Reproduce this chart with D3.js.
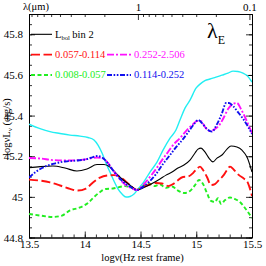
<!DOCTYPE html>
<html>
<head>
<meta charset="utf-8">
<script src="https://cdn.jsdelivr.net/npm/d3@7"></script>
<style>
  html, body { margin: 0; padding: 0; background: #fff; }
  svg text { font-family: "Liberation Serif", "DejaVu Serif", serif; }
</style>
</head>
<body>
<div id="chart"></div>
<script>
// SED per lambda_E bin, normalised near 1 micron
const xTicks = [13.5, 14, 14.5, 15, 15.5];
const yTicks = [44.8, 45, 45.2, 45.4, 45.6, 45.8];
const lambdaMajor = [1, 0.1];
const lambdaMinor = [9, 8, 7, 6, 5, 4, 3, 2, 0.9, 0.8, 0.7, 0.6, 0.5, 0.4, 0.3, 0.2];

// [log nu, log nuLnu]
const cyanSeries = [[13.5,45.358],[13.599,45.336],[13.688,45.321],[13.778,45.312],[13.868,45.304],[13.957,45.299],[14.029,45.292],[14.083,45.28],[14.119,45.255],[14.155,45.216],[14.191,45.166],[14.226,45.122],[14.262,45.078],[14.298,45.039],[14.334,45.014],[14.37,44.999],[14.406,45.002],[14.442,45.014],[14.478,45.039],[14.522,45.068],[14.585,45.122],[14.648,45.171],[14.702,45.23],[14.765,45.289],[14.818,45.329],[14.854,45.378],[14.899,45.437],[14.944,45.476],[14.998,45.535],[15.034,45.555],[15.078,45.572],[15.123,45.58],[15.177,45.589],[15.231,45.599],[15.285,45.609],[15.33,45.619],[15.374,45.617],[15.419,45.609],[15.455,45.597],[15.5,45.565]];

const blackSeries = [[13.5,45.144],[13.599,45.149],[13.715,45.152],[13.823,45.142],[13.93,45.127],[14.02,45.137],[14.11,45.159],[14.173,45.159],[14.226,45.147],[14.28,45.117],[14.334,45.088],[14.406,45.058],[14.468,45.034],[14.54,45.048],[14.612,45.068],[14.675,45.088],[14.729,45.107],[14.783,45.122],[14.836,45.142],[14.89,45.157],[14.944,45.181],[14.989,45.216],[15.016,45.235],[15.043,45.24],[15.078,45.221],[15.114,45.191],[15.15,45.172],[15.186,45.191],[15.231,45.206],[15.276,45.235],[15.312,45.25],[15.365,45.245],[15.41,45.23],[15.455,45.196],[15.5,45.122]];

const redSeries = [[13.5,45.085],[13.599,45.08],[13.688,45.071],[13.778,45.056],[13.868,45.039],[13.939,45.031],[14.011,45.041],[14.074,45.071],[14.137,45.095],[14.2,45.105],[14.262,45.107],[14.316,45.098],[14.37,45.075],[14.415,45.053],[14.468,45.034],[14.522,45.048],[14.585,45.061],[14.639,45.068],[14.693,45.066],[14.747,45.053],[14.791,45.063],[14.827,45.078],[14.881,45.098],[14.926,45.1],[14.971,45.117],[15.007,45.139],[15.034,45.149],[15.061,45.132],[15.096,45.098],[15.132,45.058],[15.168,45.063],[15.204,45.083],[15.24,45.103],[15.276,45.132],[15.303,45.149],[15.339,45.132],[15.383,45.107],[15.428,45.09],[15.464,45.068],[15.5,45.004]];

const magentaSeries = [[13.5,45.191],[13.599,45.189],[13.715,45.181],[13.868,45.179],[14.02,45.186],[14.11,45.194],[14.164,45.189],[14.209,45.166],[14.253,45.132],[14.298,45.098],[14.352,45.066],[14.406,45.046],[14.468,45.034],[14.522,45.058],[14.585,45.098],[14.639,45.137],[14.693,45.181],[14.747,45.221],[14.8,45.26],[14.854,45.289],[14.908,45.324],[14.962,45.353],[15.007,45.373],[15.043,45.373],[15.078,45.344],[15.123,45.324],[15.168,45.334],[15.213,45.358],[15.249,45.393],[15.285,45.432],[15.321,45.454],[15.365,45.462],[15.401,45.432],[15.437,45.393],[15.473,45.348],[15.5,45.314]];

const blueSeries = [[13.5,45.095],[13.554,45.12],[13.617,45.142],[13.715,45.162],[13.823,45.174],[13.93,45.179],[14.02,45.186],[14.074,45.196],[14.11,45.201],[14.155,45.194],[14.2,45.171],[14.244,45.137],[14.298,45.1],[14.352,45.071],[14.406,45.051],[14.468,45.034],[14.531,45.053],[14.585,45.078],[14.639,45.112],[14.702,45.162],[14.765,45.206],[14.827,45.25],[14.881,45.284],[14.935,45.324],[14.98,45.358],[15.016,45.378],[15.052,45.363],[15.096,45.334],[15.141,45.321],[15.186,45.358],[15.231,45.412],[15.267,45.462],[15.294,45.462],[15.33,45.447],[15.374,45.417],[15.419,45.385],[15.464,45.346],[15.5,45.309]];

const greenSeries = [[13.5,44.916],[13.599,44.908],[13.715,44.901],[13.796,44.908],[13.868,44.933],[13.957,44.948],[14.029,44.97],[14.083,44.999],[14.137,45.024],[14.191,45.039],[14.253,45.041],[14.307,45.048],[14.361,45.053],[14.415,45.046],[14.468,45.034],[14.522,45.053],[14.576,45.066],[14.621,45.053],[14.675,45.061],[14.729,45.044],[14.783,45.051],[14.836,45.031],[14.89,45.019],[14.944,45.029],[14.989,45.058],[15.025,45.083],[15.061,45.063],[15.096,45.019],[15.132,44.98],[15.168,44.975],[15.195,44.994],[15.222,44.965],[15.258,44.984],[15.303,44.997],[15.348,44.989],[15.392,44.975],[15.437,44.945],[15.482,44.911],[15.5,44.896]];

const series = [
    { data: cyanSeries, color: '#22eef2', width: 1.4, dash: null },
    { data: greenSeries, color: '#22ee22', width: 1.9, dash: '4,2.5' },
    { data: redSeries, color: '#ff1010', width: 1.9, dash: '9,3.5' },
    { data: blackSeries, color: '#000', width: 1.1, dash: null },
    { data: magentaSeries, color: '#ff10ff', width: 1.9, dash: '7,2,2,2' },
    { data: blueSeries, color: '#1010ee', width: 1.9, dash: '5,1.6,1.6,1.6,1.6,1.6' }
];

const legendRows = [
    [{ label: 'bol', color: '#000', width: 1.1, dash: null }],
    [{ label: '0.057-0.114', color: '#ff1010', width: 1.9, dash: '9,3.5' },
     { label: '0.252-2.506', color: '#ff10ff', width: 1.9, dash: '7,2,2,2' }],
    [{ label: '0.008-0.057', color: '#22ee22', width: 1.9, dash: '4,2.5' },
     { label: '0.114-0.252', color: '#1010ee', width: 1.9, dash: '5,1.6,1.6,1.6,1.6,1.6' }]
];

const W = 266, H = 266;
const padL = 29, padR = 252, padT = 14, padB = 237.5;

const svg = d3.select('#chart').append('svg')
    .attr('width', W).attr('height', H)
    .attr('viewBox', `0 0 ${W} ${H}`);

const x = d3.scaleLinear().domain([13.5, 15.5]).range([padL, padR]);
const y = d3.scaleLinear().domain([44.8, 45.9]).range([padB, padT]);
// lambda in micron: log lambda = 14.4768 - log nu
const lam = d3.scaleLog()
    .domain([Math.pow(10, 14.4768 - 13.5), Math.pow(10, 14.4768 - 15.5)])
    .range([padL, padR]);

const fmt = d => String(+d.toFixed(1));
const xMinor = d3.range(13.5, 15.51, 0.1);
const yMinor = d3.range(44.8, 45.91, 0.05);

const styleAxis = (sel) => {
    sel.selectAll('.domain').attr('stroke', '#000').attr('stroke-width', 1);
    sel.selectAll('.tick line').attr('stroke', '#000').attr('stroke-width', 0.8);
    sel.selectAll('text').attr('fill', '#000').attr('font-size', 11)
        .attr('font-family', '"Liberation Serif", serif');
};

// bottom
svg.append('g').attr('transform', `translate(0,${padB})`)
    .call(d3.axisBottom(x).tickValues(xMinor).tickSize(-3).tickSizeOuter(0).tickFormat(''))
    .call(styleAxis);
svg.append('g').attr('transform', `translate(0,${padB})`)
    .call(d3.axisBottom(x).tickValues(xTicks).tickSize(-6).tickSizeOuter(0).tickPadding(3).tickFormat(fmt))
    .call(styleAxis);
// top
svg.append('g').attr('transform', `translate(0,${padT})`)
    .call(d3.axisTop(lam).tickValues(lambdaMinor).tickSize(-3).tickSizeOuter(0).tickFormat(''))
    .call(styleAxis);
svg.append('g').attr('transform', `translate(0,${padT})`)
    .call(d3.axisTop(lam).tickValues(lambdaMajor).tickSize(-6).tickSizeOuter(0).tickPadding(3)
        .tickFormat(d => d === 1 ? '1' : '0.1'))
    .call(styleAxis);
// left
svg.append('g').attr('transform', `translate(${padL},0)`)
    .call(d3.axisLeft(y).tickValues(yMinor).tickSize(-3).tickSizeOuter(0).tickFormat(''))
    .call(styleAxis);
svg.append('g').attr('transform', `translate(${padL},0)`)
    .call(d3.axisLeft(y).tickValues(yTicks).tickSize(-6).tickSizeOuter(0).tickPadding(6).tickFormat(fmt))
    .call(styleAxis);
// right
svg.append('g').attr('transform', `translate(${padR},0)`)
    .call(d3.axisRight(y).tickValues(yMinor).tickSize(-3).tickSizeOuter(0).tickFormat(''))
    .call(styleAxis);
svg.append('g').attr('transform', `translate(${padR},0)`)
    .call(d3.axisRight(y).tickValues(yTicks).tickSize(-6).tickSizeOuter(0).tickFormat(''))
    .call(styleAxis);

// curves
svg.append('clipPath').attr('id', 'clip')
    .append('rect').attr('x', padL).attr('y', padT).attr('width', padR - padL).attr('height', padB - padT);

const line = d3.line()
    .x(d => x(d[0]))
    .y(d => y(d[1]))
    .curve(d3.curveMonotoneX);

svg.append('g').attr('clip-path', 'url(#clip)')
    .selectAll('path')
    .data(series)
    .enter()
    .append('path')
    .attr('d', d => line(d.data))
    .attr('fill', 'none')
    .attr('stroke', d => d.color)
    .attr('stroke-width', d => d.width)
    .attr('stroke-dasharray', d => d.dash)
    .attr('stroke-linejoin', 'round');

// legend
const legY = [45.8, 45.7, 45.6];
const colX = [[31, 52, 55], [107, 131, 134]];
legendRows.forEach((row, i) => {
    row.forEach((item, j) => {
        const [x0, x1, tx] = colX[j];
        svg.append('line')
            .attr('x1', x0).attr('x2', x1)
            .attr('y1', y(legY[i])).attr('y2', y(legY[i]))
            .attr('stroke', item.color).attr('stroke-width', item.width)
            .attr('stroke-dasharray', item.dash);
        const t = svg.append('text')
            .attr('x', tx).attr('y', y(legY[i]) + 3.5)
            .attr('font-size', 10.5)
            .attr('fill', item.color);
        if (i === 0) {
            t.append('tspan').text('L');
            t.append('tspan').attr('font-size', 6.5).attr('dy', 2.5).text(item.label);
            t.append('tspan').attr('dy', -2.5).text(' bin 2');
        } else {
            t.text(item.label);
        }
    });
});

// lambda_E tag
const tag = svg.append('text').attr('x', 207).attr('y', 38).attr('font-size', 22).attr('fill', '#000');
tag.append('tspan').text('λ');
tag.append('tspan').attr('font-size', 12).attr('dy', 6).text('E');

// axis titles
svg.append('text')
    .attr('x', 23).attr('y', 10)
    .attr('font-size', 10.5)
    .text('λ(μm)');

svg.append('text')
    .attr('x', (padL + padR) / 2 + 2).attr('y', 261)
    .attr('text-anchor', 'middle')
    .attr('font-size', 10.5)
    .text('logν(Hz rest frame)');

const yt = svg.append('text')
    .attr('transform', 'translate(10,127) rotate(-90)')
    .attr('text-anchor', 'middle')
    .attr('font-size', 10.5);
yt.append('tspan').text('logνL');
yt.append('tspan').attr('font-size', 7).attr('dy', 2).text('ν');
yt.append('tspan').attr('dy', -2).text(' (erg/s)');
</script>
</body>
</html>
